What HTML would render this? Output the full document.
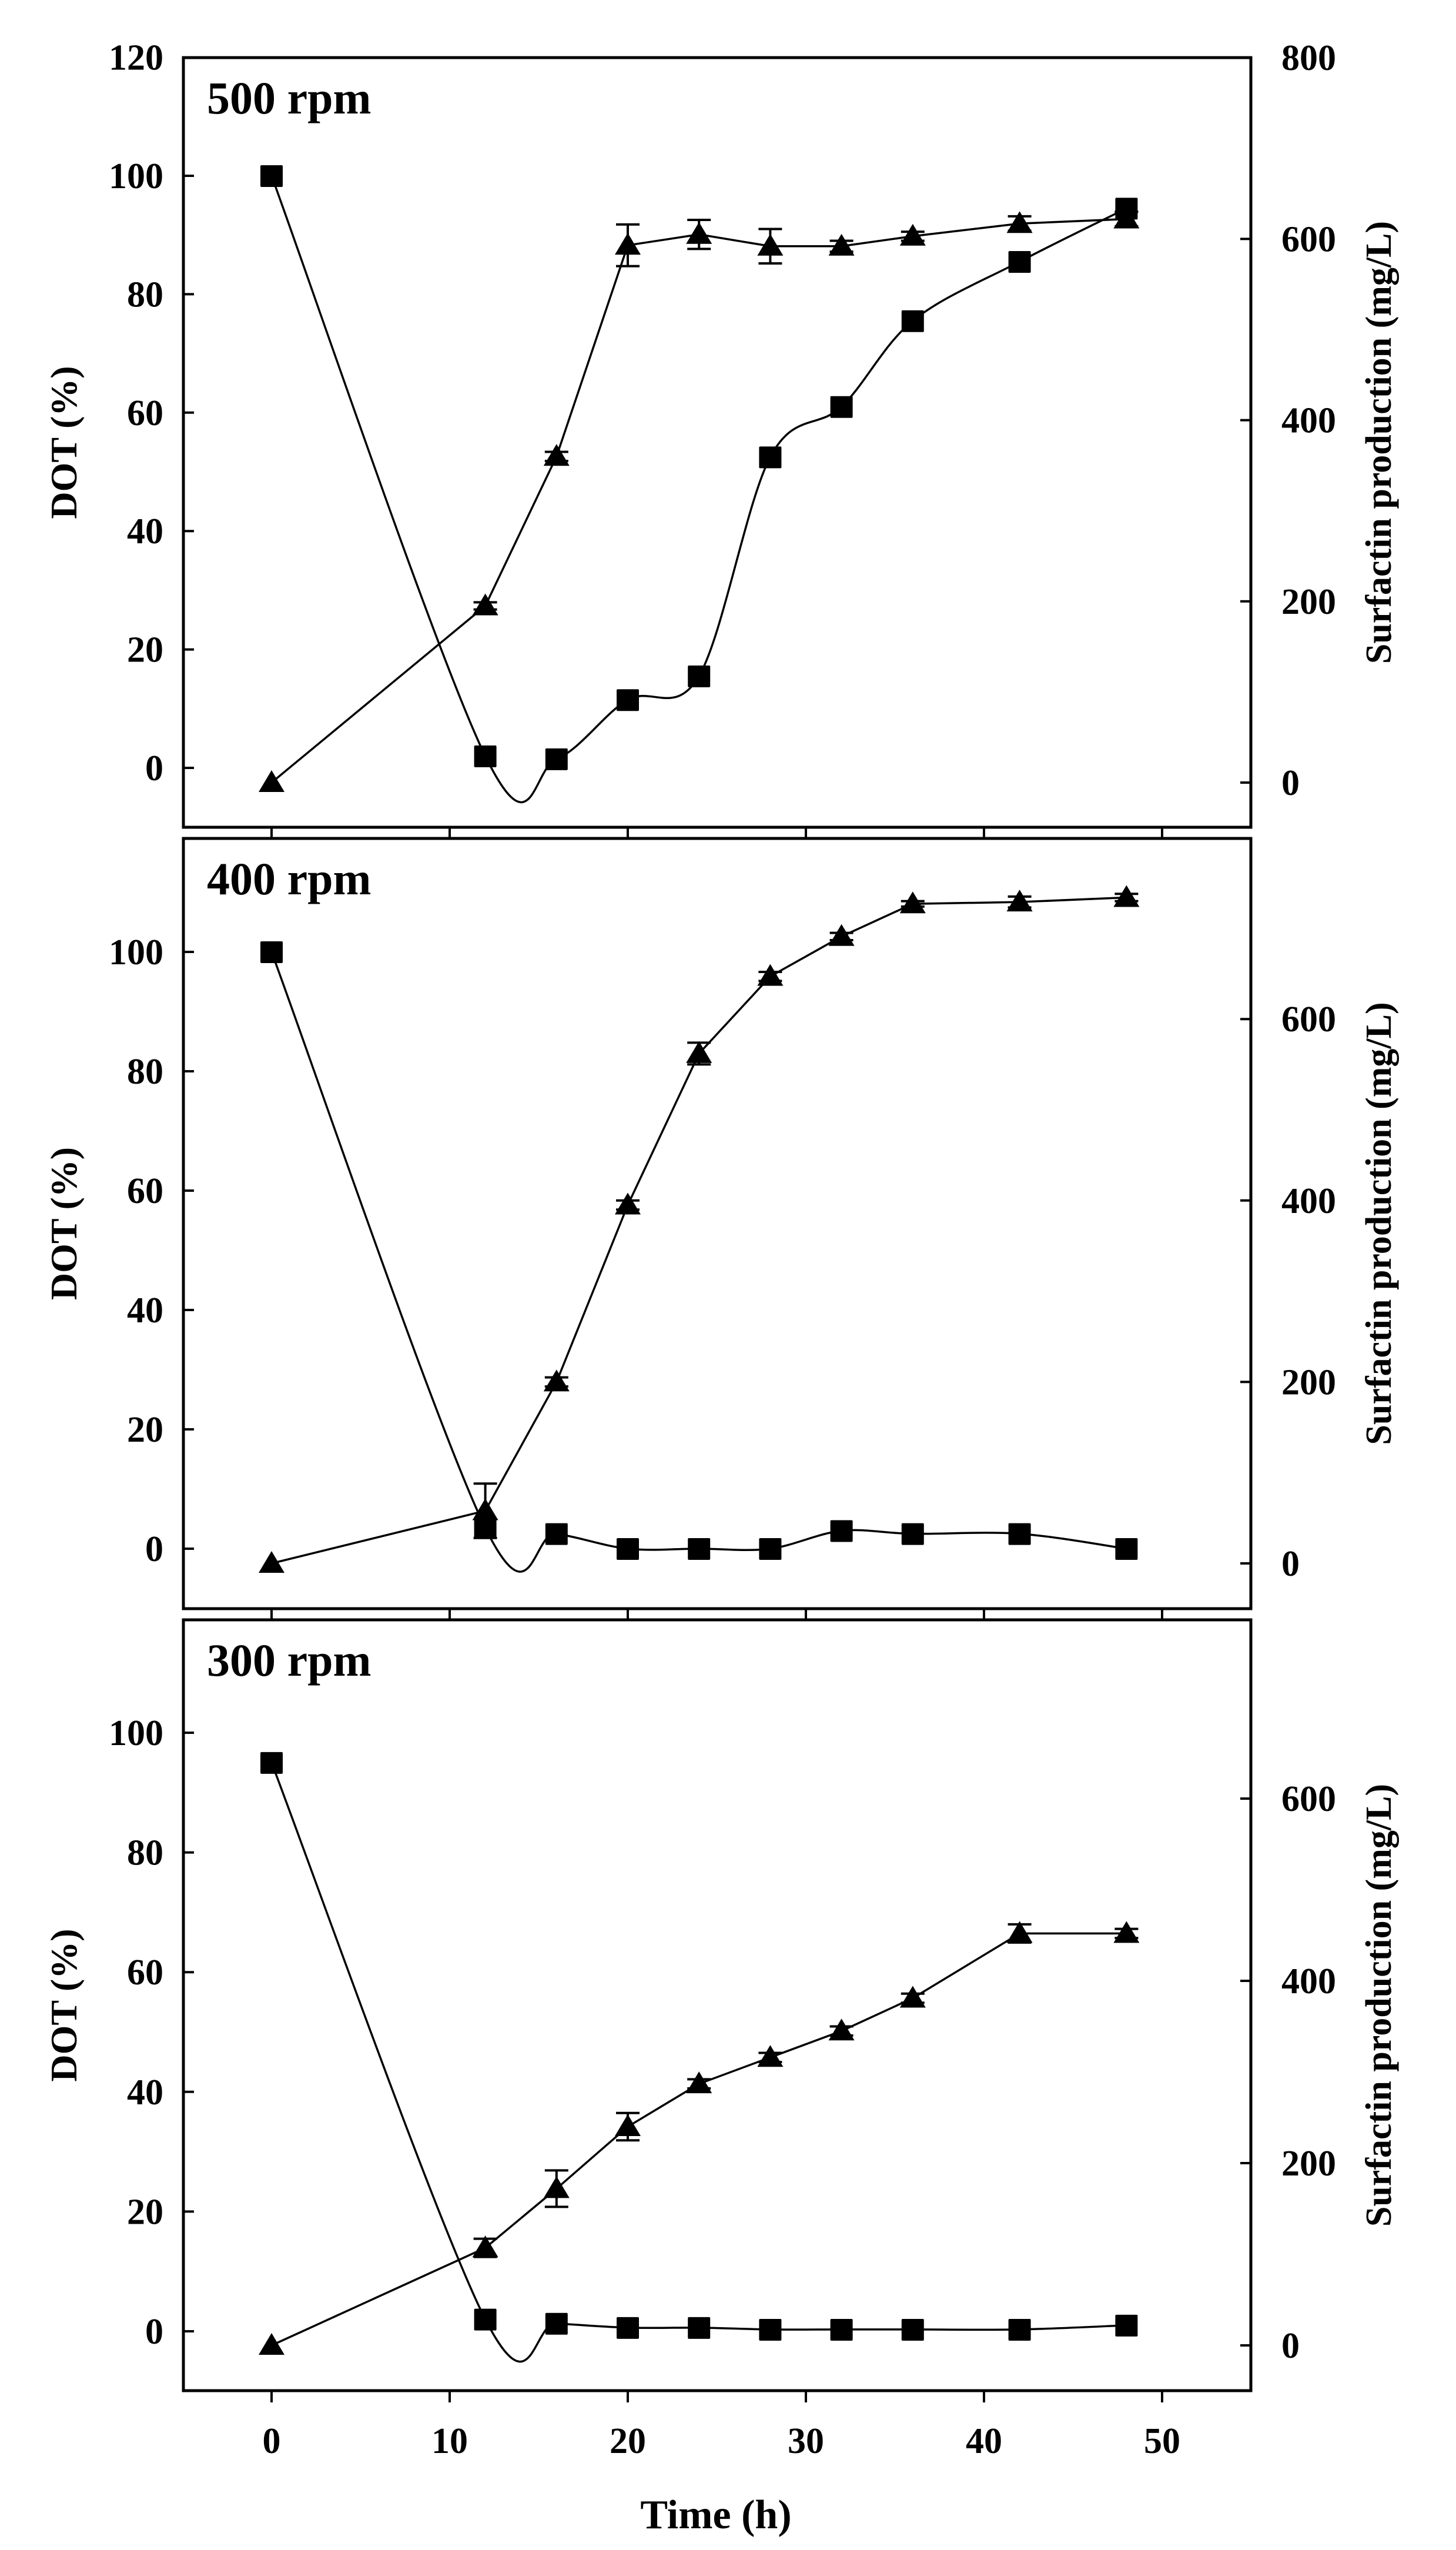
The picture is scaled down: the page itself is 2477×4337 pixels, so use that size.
<!DOCTYPE html>
<html><head><meta charset="utf-8">
<style>
html,body{margin:0;padding:0;background:#fff;}
svg{display:block;}
text{font-family:"Liberation Serif",serif;font-weight:bold;fill:#000;}
</style></head>
<body>
<svg id="s" width="2477" height="4337" xmlns="http://www.w3.org/2000/svg"></svg>
<script>
const S=document.getElementById('s');
let out='';
const X=t=>462+30.3*t;
const XL=312,XR=2128;
function crPath(pts){
  let d='M'+pts[0][0]+','+pts[0][1];
  for(let i=0;i<pts.length-1;i++){
    const p0=pts[Math.max(0,i-1)],p1=pts[i],p2=pts[i+1],p3=pts[Math.min(pts.length-1,i+2)];
    const c1=[p1[0]+(p2[0]-p0[0])/6,p1[1]+(p2[1]-p0[1])/6];
    const c2=[p2[0]-(p3[0]-p1[0])/6,p2[1]-(p3[1]-p1[1])/6];
    d+=`C${c1[0].toFixed(1)},${c1[1].toFixed(1)} ${c2[0].toFixed(1)},${c2[1].toFixed(1)} ${p2[0].toFixed(1)},${p2[1].toFixed(1)}`;
  }
  return d;
}
const T=[0,12,16,20,24,28,32,36,42,48];
const panels=[
 {top:98,bot:1407,L0:1306,Ls:10.07,R0:1331,Rs:1.541,lab:'500 rpm',
  lt:[0,20,40,60,80,100,120],rt:[0,200,400,600,800],
  dot:[100,2,1.5,11.5,15.5,52.5,61,75.5,85.5,94.5],
  sur:[0,195,360,593,605,592,592,603,617,622],
  err:[0,4,5,23,16,19,6,5,8,8]},
 {top:1426,bot:2736,L0:2634,Ls:10.15,R0:2659,Rs:1.543,lab:'400 rpm',
  lt:[0,20,40,60,80,100],rt:[0,200,400,600],
  dot:[100,3.5,2.5,0,0,0,3,2.5,2.5,0],
  sur:[0,58,200,395,562,647,691,727,729,734],
  err:[0,30,5,5,12,5,4,3,6,4]},
 {top:2755,bot:4066,L0:3965,Ls:10.18,R0:3989,Rs:1.55,lab:'300 rpm',
  lt:[0,20,40,60,80,100],rt:[0,200,400,600],
  dot:[95,2,1.3,0.6,0.6,0.3,0.3,0.3,0.3,1],
  sur:[0,107,172,240,287,316,345,381,452,452],
  err:[0,10,20,15,5,5,5,5,10,5]}
];
panels.forEach(p=>{
  const yL=v=>p.L0-p.Ls*v, yR=v=>p.R0-p.Rs*v;
  out+=`<rect x="${XL}" y="${p.top}" width="${XR-XL}" height="${p.bot-p.top}" fill="none" stroke="#000" stroke-width="5"/>`;
  p.lt.forEach(v=>{const y=yL(v);out+=`<line x1="${XL}" y1="${y}" x2="${XL+18}" y2="${y}" stroke="#000" stroke-width="4"/><text x="278" y="${y+21}" font-size="62" text-anchor="end">${v}</text>`;});
  p.rt.forEach(v=>{const y=yR(v);out+=`<line x1="${XR-18}" y1="${y}" x2="${XR}" y2="${y}" stroke="#000" stroke-width="4"/><text x="2180" y="${y+21}" font-size="62">${v}</text>`;});
  [0,10,20,30,40,50].forEach(t=>{out+=`<line x1="${X(t)}" y1="${p.bot}" x2="${X(t)}" y2="${p.bot+20}" stroke="#000" stroke-width="4"/>`;});
  const mid=(p.top+p.bot)/2;
  out+=`<text transform="translate(130,${mid}) rotate(-90)" font-size="64" text-anchor="middle">DOT (%)</text>`;
  out+=`<text transform="translate(2366,${mid}) rotate(-90)" font-size="62" text-anchor="middle">Surfactin production (mg/L)</text>`;
  out+=`<text x="352" y="${p.top+95}" font-size="78">${p.lab}</text>`;
  out+=`<path d="${crPath(T.map((t,i)=>[X(t),yL(p.dot[i])]))}" fill="none" stroke="#000" stroke-width="3.5"/>`;
  out+=`<polyline points="${T.map((t,i)=>X(t)+','+yR(p.sur[i])).join(' ')}" fill="none" stroke="#000" stroke-width="3.5"/>`;
  T.forEach((t,i)=>{
    const x=X(t),y=yR(p.sur[i]),e=p.err[i]*p.Rs;
    if(e>3){out+=`<line x1="${x}" y1="${y-e}" x2="${x}" y2="${y+e}" stroke="#000" stroke-width="4"/><line x1="${x-20}" y1="${y-e}" x2="${x+20}" y2="${y-e}" stroke="#000" stroke-width="4"/><line x1="${x-20}" y1="${y+e}" x2="${x+20}" y2="${y+e}" stroke="#000" stroke-width="4"/>`;}
    out+=`<polygon points="${x},${y-21} ${x+22},${y+16} ${x-22},${y+16}" fill="#000"/>`;
    const ys=yL(p.dot[i]);
    out+=`<rect x="${x-19}" y="${ys-18}" width="38" height="37" rx="2" fill="#000"/>`;
  });
});
[0,10,20,30,40,50].forEach(t=>{out+=`<text x="${X(t)}" y="4172" font-size="62" text-anchor="middle">${t}</text>`;});
out+=`<text x="1218" y="4300" font-size="70" text-anchor="middle">Time (h)</text>`;
S.innerHTML=out;
</script>
</body></html>
